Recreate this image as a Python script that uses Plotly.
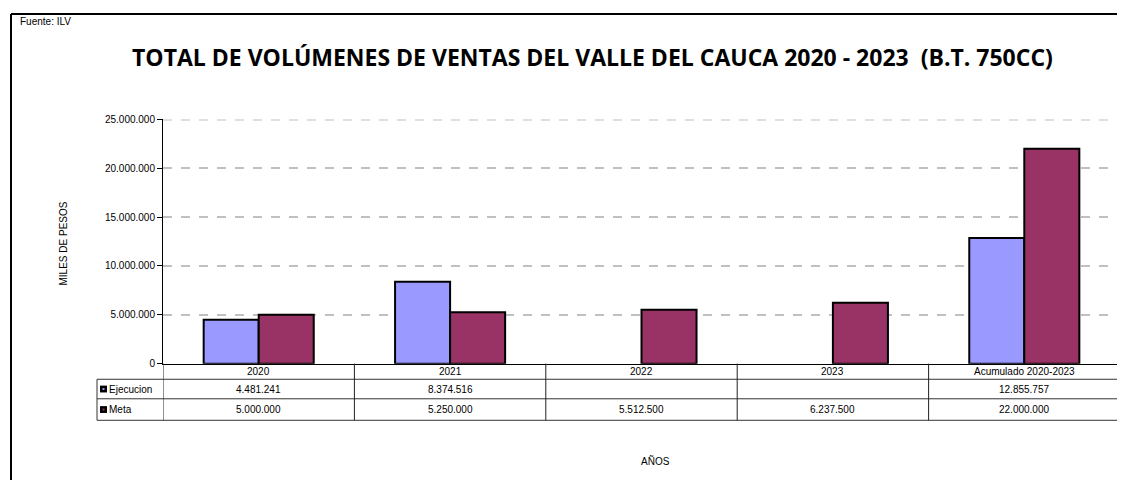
import plotly.graph_objects as go

categories = ["2020", "2021", "2022", "2023", "Acumulado 2020-2023"]
ejecucion = [4481241, 8374516, None, None, 12855757]
meta = [5000000, 5250000, 5512500, 6237500, 22000000]
series_names = ["Ejecucion", "Meta"]
colors = ["#9999FF", "#993366"]

OFF = 8  # page body margin
W, H = 1125 - OFF, 488 - 2 * OFF
def py(pix):
    return 1 - (pix - OFF) / H
def px(pix):
    return (pix - OFF) / W

X0, X1 = 163, 1120
Y_TOP, Y_AX = 117, 367
ROW1, ROW2, ROW3 = 383, 403, 425
LEG_X = 97

def fmt(v):
    return "" if v is None else f"{v:,}".replace(",", ".")

fig = go.Figure()
for name, vals, col in zip(series_names, [ejecucion, meta], colors):
    fig.add_trace(go.Bar(
        x=list(range(len(categories))), y=vals, name=name,
        marker=dict(color=col, line=dict(color="black", width=2)),
        showlegend=False,
    ))

shapes = []
annotations = []
# outer frame (left + top)
shapes.append(dict(type="line", xref="paper", yref="paper", x0=px(11), x1=1.02, y0=py(9), y1=py(9), line=dict(color="black", width=2)))
shapes.append(dict(type="line", xref="paper", yref="paper", x0=px(11), x1=px(11), y0=py(9), y1=-0.05, line=dict(color="black", width=2)))

# top gridline (at range edge)
shapes.append(dict(type="line", xref="paper", yref="y", x0=px(X0), x1=px(X1), y0=25000000, y1=25000000,
                   line=dict(color="#c0c0c0", width=2, dash="dash"), layer="below"))

# table horizontal lines
for yy in [ROW1, ROW2, ROW3]:
    shapes.append(dict(type="line", xref="paper", yref="paper", x0=px(LEG_X), x1=px(X1), y0=py(yy), y1=py(yy), line=dict(color="#333333", width=1)))
# legend column left border
shapes.append(dict(type="line", xref="paper", yref="paper", x0=px(LEG_X), x1=px(LEG_X), y0=py(ROW1), y1=py(ROW3), line=dict(color="#333333", width=1)))
# vertical category separators
for i in range(len(categories) + 1):
    shapes.append(dict(type="line", xref="x", yref="paper", x0=i - 0.5, x1=i - 0.5, y0=py(Y_AX), y1=py(ROW3), line=dict(color="#222222", width=1)))

TXT = dict(family="Liberation Sans", size=10, color="black")
# category labels
for i, c in enumerate(categories):
    annotations.append(dict(x=i, y=py((Y_AX + ROW1) / 2 + 0.5), xref="x", yref="paper", text=c, showarrow=False,
                            xanchor="center", yanchor="middle", font=TXT))
# values rows
for vals, (ya, yb) in zip([ejecucion, meta], [(ROW1, ROW2), (ROW2, ROW3)]):
    for i, v in enumerate(vals):
        if v is None:
            continue
        annotations.append(dict(x=i, y=py((ya + yb) / 2), xref="x", yref="paper", text=fmt(v), showarrow=False,
                                xanchor="center", yanchor="middle", font=TXT))
# legend keys
for name, col, (ya, yb) in zip(series_names, colors, [(ROW1, ROW2), (ROW2, ROW3)]):
    cy = (ya + yb) / 2
    shapes.append(dict(type="rect", xref="paper", yref="paper", x0=px(100), x1=px(107), y0=py(cy + 3.5), y1=py(cy - 3.5),
                       fillcolor="black", line=dict(width=0)))
    shapes.append(dict(type="rect", xref="paper", yref="paper", x0=px(102.5), x1=px(104.5), y0=py(cy + 1), y1=py(cy - 1),
                       fillcolor=col, line=dict(width=0)))
    annotations.append(dict(x=px(107), y=py(cy), xref="paper", yref="paper", text=name, showarrow=False,
                            xanchor="left", yanchor="middle", font=TXT))

# texts
annotations.append(dict(x=px(18), y=py(17), xref="paper", yref="paper", text="Fuente: ILV", showarrow=False,
                        xanchor="left", yanchor="middle", font=dict(family="Liberation Sans", size=10, color="black")))
annotations.append(dict(x=px(592), y=py(53), xref="paper", yref="paper",
                        text="<b>TOTAL DE VOLÚMENES DE VENTAS DEL VALLE DEL CAUCA 2020 - 2023  (B.T. 750CC)</b>",
                        showarrow=False, xanchor="center", yanchor="middle", font=dict(family="Open Sans", size=23, color="black")))
annotations.append(dict(x=px(63), y=py(244), xref="paper", yref="paper", text="MILES DE PESOS", textangle=-90,
                        showarrow=False, xanchor="center", yanchor="middle", font=dict(family="Liberation Sans", size=10, color="black")))
annotations.append(dict(x=px(655), y=py(467), xref="paper", yref="paper", text="AÑOS",
                        showarrow=False, xanchor="center", yanchor="middle", font=dict(family="Liberation Sans", size=10, color="black")))

fig.update_layout(
    width=W, height=H,
    margin=dict(l=0, r=0, t=0, b=0),
    paper_bgcolor="white", plot_bgcolor="white",
    separators=",.",
    barmode="group", bargap=0.425, bargroupgap=0,
    shapes=shapes, annotations=annotations,
    xaxis=dict(domain=[px(X0), px(X1)], range=[-0.5, 4.5], showticklabels=False,
               showgrid=False, showline=True, linecolor="black", linewidth=1, ticks="", zeroline=False),
    yaxis=dict(domain=[py(Y_AX), py(Y_TOP)], range=[0, 25000000], dtick=5000000, tickformat=",d",
               showgrid=True, gridcolor="#c0c0c0", gridwidth=2, griddash="dash",
               showline=True, linecolor="black", linewidth=1, ticks="outside", ticklen=5, tickcolor="black",
               zeroline=False, tickfont=dict(family="Liberation Sans", size=10, color="black")),
)

fig.write_html("out.html")
